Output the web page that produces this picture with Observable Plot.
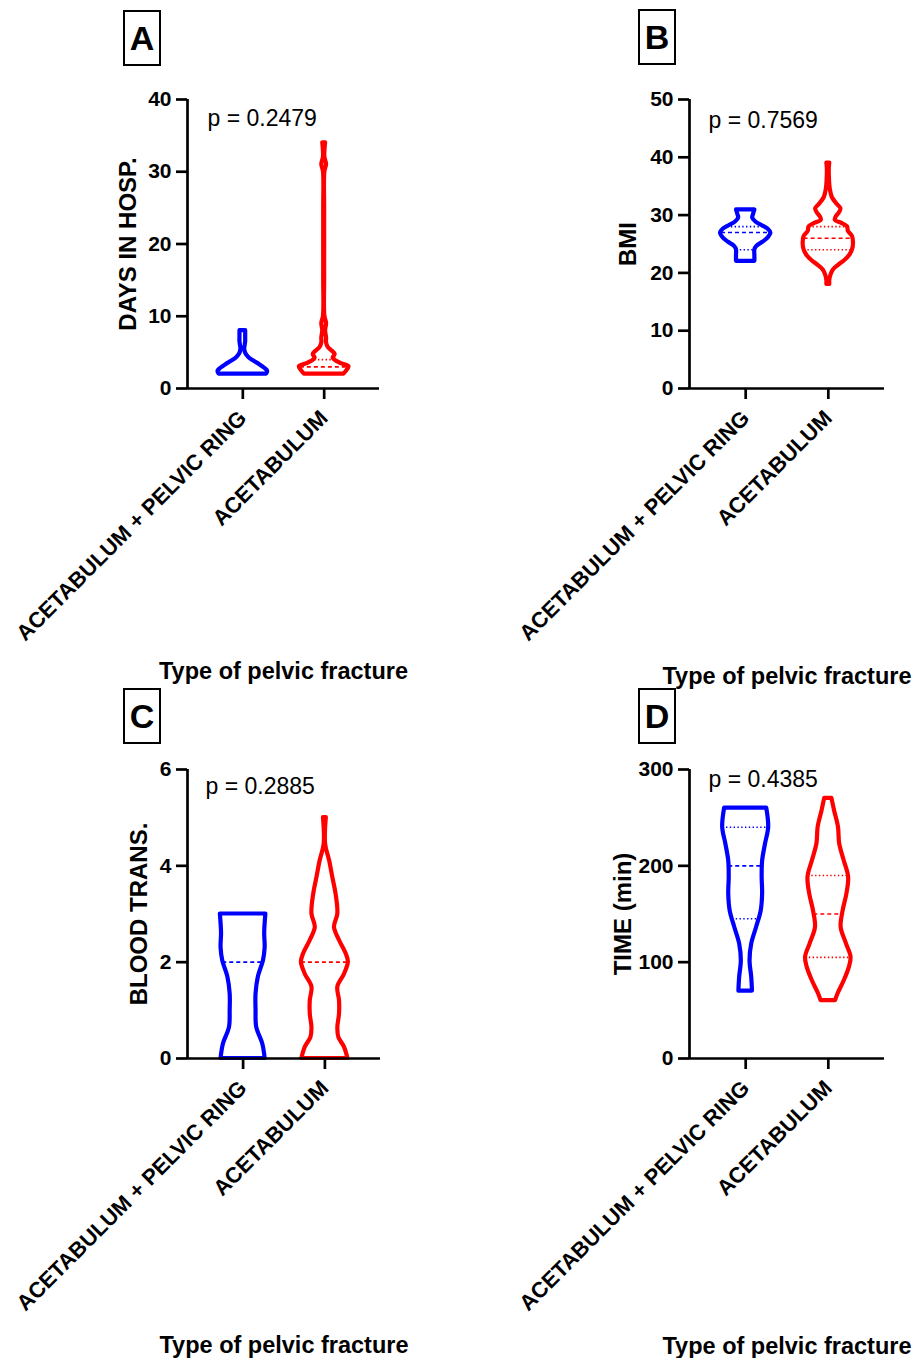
<!DOCTYPE html>
<html><head><meta charset="utf-8">
<script src="https://cdn.jsdelivr.net/npm/d3@7"></script>
<script src="https://cdn.jsdelivr.net/npm/@observablehq/plot@0.6"></script>
<style>
body{margin:0;background:#fff;}
#fig{position:relative;width:918px;height:1358px;overflow:hidden;font-family:"Liberation Sans",Arial,sans-serif;}
.panel{position:absolute;}
.tag{position:absolute;box-sizing:border-box;width:38px;height:56px;border:2px solid #000;font-weight:bold;font-size:34px;line-height:52px;text-align:center;color:#000;}
</style></head><body><div id="fig"></div>
<script>
// ---------------- data ----------------
const categories = ["ACETABULUM + PELVIC RING", "ACETABULUM"];
const xTitle = "Type of pelvic fracture";
const panelTags = ["A", "B", "C", "D"];
const yTitles = ["DAYS IN HOSP.", "BMI", "BLOOD TRANS.", "TIME (min)"];
const pTexts = ["p = 0.2479", "p = 0.7569", "p = 0.2885", "p = 0.4385"];
const yTicksA = [0, 10, 20, 30, 40];
const yTicksB = [0, 10, 20, 30, 40, 50];
const yTicksC = [0, 2, 4, 6];
const yTicksD = [0, 100, 200, 300];

// violin outlines: [value, relative half-width]
const daysRing = [[2,1.0],[2.4,1.04],[2.8,0.92],[3.3,0.71],[3.8,0.46],[4.3,0.25],[4.8,0.13],[5.4,0.08],[6.0,0.1],[6.5,0.12],[7.0,0.12],[8.0,0.12]];
const daysAcet = [[2,0.83],[2.5,0.96],[3.0,1.04],[3.4,0.75],[3.8,0.5],[4.2,0.38],[4.7,0.46],[5.2,0.33],[5.7,0.17],[6.3,0.1],[7.0,0.1],[8.0,0.06],[9.0,0.1],[10,0.03],[15,0.02],[20,0.02],[25,0.02],[30,0.03],[31,0.1],[32,0.03],[34,0.06]];
const bmiRing = [[22,0.38],[23,0.38],[24,0.38],[24.6,0.46],[25.3,0.71],[26.0,0.92],[26.9,1.04],[27.6,0.92],[28.2,0.67],[28.8,0.42],[29.5,0.29],[30.2,0.33],[30.9,0.38]];
const bmiAcet = [[18,0.06],[18.7,0.06],[19.5,0.1],[20.5,0.21],[21.3,0.42],[22.1,0.67],[23,0.88],[24,1.0],[25,1.04],[26.3,1.0],[27.2,0.83],[28,0.79],[28.6,0.54],[29.1,0.29],[29.7,0.33],[30.4,0.46],[31.1,0.52],[31.8,0.38],[33,0.17],[34.5,0.08],[36,0.05],[38,0.04],[39,0.06]];
const bloodRing = [[0,0.92],[0.3,0.82],[0.64,0.57],[1.0,0.54],[1.34,0.54],[1.7,0.64],[2.03,0.85],[2.3,0.92],[2.6,0.9],[3.0,0.95]];
const bloodAcet = [[0,0.96],[0.23,0.82],[0.44,0.58],[0.64,0.54],[0.92,0.61],[1.2,0.61],[1.48,0.54],[1.75,0.82],[2.0,0.98],[2.17,0.89],[2.45,0.61],[2.72,0.4],[3.0,0.54],[3.4,0.47],[3.76,0.33],[4.1,0.2],[4.45,0.03],[5.0,0.06]];
const timeRing = [[70,0.28],[84,0.25],[101.5,0.18],[119,0.25],[136,0.45],[153,0.64],[171,0.7],[188,0.68],[205,0.7],[222.7,0.82],[240,0.95],[260,0.87]];
const timeAcet = [[60,0.3],[67,0.4],[80.7,0.66],[94.6,0.87],[105,0.94],[119,0.75],[136,0.53],[153,0.61],[171,0.77],[188,0.84],[205,0.66],[222.7,0.47],[240,0.42],[257,0.26],[270,0.15]];

// median / quartile lines: [value, relative half-width, kind]
const daysRingLines = [[2,1.0,"median"],[6,0.1,"quartile"]];
const daysAcetLines = [[3,1.0,"median"],[4,0.4,"quartile"]];
const bmiRingLines = [[27,1.0,"median"],[28,0.75,"quartile"],[24,0.38,"quartile"]];
const bmiAcetLines = [[26,1.0,"median"],[28,0.79,"quartile"],[24,1.0,"quartile"]];
const bloodRingLines = [[2,0.85,"median"]];
const bloodAcetLines = [[2,0.98,"median"]];
const timeRingLines = [[200,0.7,"median"],[240,0.95,"quartile"],[145,0.55,"quartile"]];
const timeAcetLines = [[150,0.6,"median"],[190,0.84,"quartile"],[105,0.94,"quartile"]];

// ---------------- layout ----------------
const X_DOMAIN = [0.32, 2.68];
const HALF = 0.293;
const BLUE = "#0000ff", RED = "#ff0000";
const FONT = "'Liberation Sans', Arial, sans-serif";

const panels = [
  {tag: panelTags[0], tagPos: [123, 10], left: 0, top: 0, width: 459, height: 680, mt: 99, mb: 292, ml: 187, mr: 80,
   ymax: 40, ticks: yTicksA, title: yTitles[0], titleDx: -59, p: pTexts[0], pDx: 20, pDy: 26, xDy: 290,
   ring: daysRing, acet: daysAcet, ringLines: daysRingLines, acetLines: daysAcetLines},
  {tag: panelTags[1], tagPos: [638, 9], left: 459, top: 0, width: 459, height: 680, mt: 99, mb: 292, ml: 230, mr: 34,
   ymax: 50, ticks: yTicksB, title: yTitles[1], titleDx: -61, p: pTexts[1], pDx: 19, pDy: 28, xDy: 295,
   ring: bmiRing, acet: bmiAcet, ringLines: bmiRingLines, acetLines: bmiAcetLines},
  {tag: panelTags[2], tagPos: [123, 688], left: 0, top: 680, width: 459, height: 678, mt: 89, mb: 300, ml: 187, mr: 79,
   ymax: 6, ticks: yTicksC, title: yTitles[2], titleDx: -48, p: pTexts[2], pDx: 18, pDy: 24, xDy: 294,
   ring: bloodRing, acet: bloodAcet, ringLines: bloodRingLines, acetLines: bloodAcetLines},
  {tag: panelTags[3], tagPos: [638, 688], left: 459, top: 680, width: 459, height: 678, mt: 89, mb: 300, ml: 230, mr: 34,
   ymax: 300, ticks: yTicksD, title: yTitles[3], titleDx: -66, p: pTexts[3], pDx: 19, pDy: 17, xDy: 295,
   ring: timeRing, acet: timeAcet, ringLines: timeRingLines, acetLines: timeAcetLines}
];

function violin(profile, lines, center, color) {
  const lineOpts = (dash) => ({
    y: d => d[0], x1: d => center - d[1] * HALF, x2: d => center + d[1] * HALF,
    stroke: color, strokeWidth: 1.6, strokeDasharray: dash
  });
  return [
    Plot.areaX(profile, {
      y: d => d[0], x1: d => center - d[1] * HALF, x2: d => center + d[1] * HALF,
      fill: "white", stroke: color, strokeWidth: 4.2, strokeLinejoin: "round", curve: "catmull-rom"
    }),
    Plot.ruleY(lines.filter(d => d[2] === "median"), lineOpts("4,3")),
    Plot.ruleY(lines.filter(d => d[2] === "quartile"), lineOpts("1.4,2.4"))
  ];
}

const fig = document.getElementById("fig");
for (const P of panels) {
  const chart = Plot.plot({
    width: P.width, height: P.height,
    marginTop: P.mt, marginBottom: P.mb, marginLeft: P.ml, marginRight: P.mr,
    style: `background:transparent;overflow:visible;color:#000;font-family:${FONT};`,
    x: {type: "linear", domain: X_DOMAIN},
    y: {domain: [0, P.ymax]},
    marks: [
      ...violin(P.ring, P.ringLines, 1, BLUE),
      ...violin(P.acet, P.acetLines, 2, RED),
      Plot.ruleY([0], {stroke: "#000", strokeWidth: 2.7}),
      Plot.ruleX([X_DOMAIN[0]], {stroke: "#000", strokeWidth: 2.7}),
      Plot.axisY({ticks: P.ticks, tickSize: 11, tickPadding: 5, fontSize: 21, fontWeight: "bold", strokeWidth: 2.7, label: null, tickFormat: d => String(d)}),
      Plot.axisX({ticks: [1, 2], tickFormat: d => categories[d - 1], tickRotate: -45, tickSize: 11, tickPadding: 15, fontSize: 21.8, fontWeight: "bold", strokeWidth: 2.7, label: null}),
      Plot.text([P.title], {text: d => d, frameAnchor: "left", textAnchor: "middle", rotate: -90, dx: P.titleDx, fontSize: 24, fontWeight: "bold"}),
      Plot.text([P.p], {text: d => d, frameAnchor: "top-left", textAnchor: "start", lineAnchor: "bottom", dx: P.pDx, dy: P.pDy, fontSize: 23}),
      Plot.text([xTitle], {text: d => d, frameAnchor: "bottom", textAnchor: "middle", lineAnchor: "bottom", dy: P.xDy, fontSize: 23.5, fontWeight: "bold"})
    ]
  });
  const wrap = document.createElement("div");
  wrap.className = "panel";
  wrap.style.left = P.left + "px";
  wrap.style.top = P.top + "px";
  wrap.appendChild(chart);
  fig.appendChild(wrap);
  const tag = document.createElement("div");
  tag.className = "tag";
  tag.style.left = P.tagPos[0] + "px";
  tag.style.top = P.tagPos[1] + "px";
  tag.textContent = P.tag;
  fig.appendChild(tag);
}
</script></body></html>
